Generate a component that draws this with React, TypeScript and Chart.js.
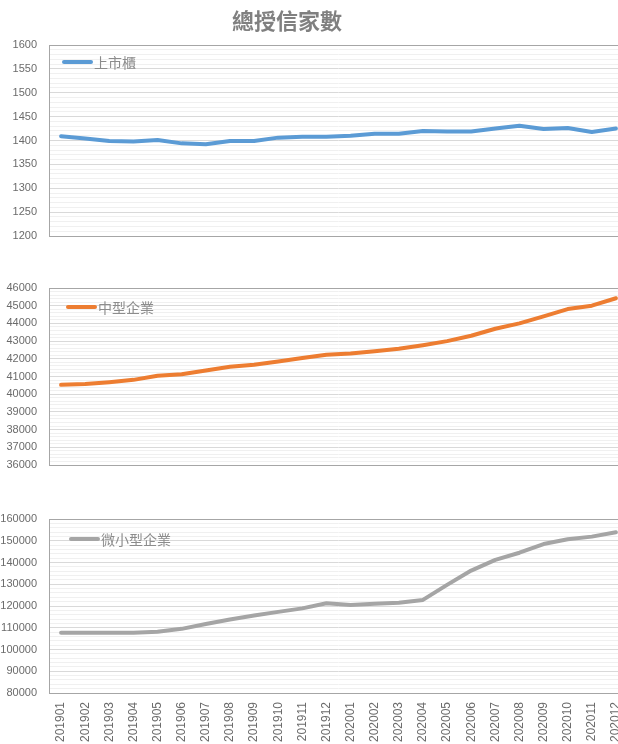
import React, { useEffect, useRef } from 'react';
import { Chart, registerables } from 'chart.js';

Chart.register(...registerables);

const chartTitle = '總授信家數';

const categories = [
  '201901', '201902', '201903', '201904', '201905', '201906',
  '201907', '201908', '201909', '201910', '201911', '201912',
  '202001', '202002', '202003', '202004', '202005', '202006',
  '202007', '202008', '202009', '202010', '202011', '202012',
];

const listedName = '上市櫃';
const listedValues = [
  1409, 1404, 1399, 1398, 1401, 1394, 1392, 1399, 1399, 1406, 1408, 1408,
  1410, 1414, 1414, 1420, 1419, 1419, 1425, 1431, 1424, 1426, 1418, 1425,
];
const listedAxis = [1200, 1600, 50, 10]; // min, max, label step, minor step

const mediumName = '中型企業';
const mediumValues = [
  40530, 40570, 40680, 40810, 41040, 41130, 41340, 41550, 41660, 41850, 42040, 42230,
  42300, 42430, 42570, 42770, 43000, 43300, 43700, 44000, 44400, 44810, 45000, 45420,
];
const mediumAxis = [36000, 46000, 1000, 200];

const smallName = '微小型企業';
const smallValues = [
  107700, 107700, 107700, 107700, 108150, 109500, 111700, 113800, 115600, 117300, 118900, 121300,
  120500, 121000, 121500, 122800, 129700, 136300, 141200, 144500, 148500, 150700, 151900, 153900,
];
const smallAxis = [80000, 160000, 10000, 2000];

const CANVAS_W = 628;
const AXIS_W = 49;
const FONT_NUM = '"Liberation Sans", Arial, sans-serif';
const FONT_CJK = '"Noto Sans CJK TC", "Noto Sans CJK SC", sans-serif';

const isMajor = (v: number, major: number) => {
  const r = Math.abs(v % major);
  return r < 1e-6 || Math.abs(r - major) < 1e-6;
};

const decorPlugin = {
  id: 'decor',
  beforeDatasetsDraw(chart: any) {
    const { ctx, chartArea: a } = chart;
    ctx.save();
    ctx.strokeStyle = '#a6a6a6';
    ctx.lineWidth = 1;
    ctx.strokeRect(
      Math.round(a.left) + 0.5,
      Math.round(a.top) + 0.5,
      Math.round(a.right - a.left),
      Math.round(a.bottom - a.top)
    );
    ctx.restore();
  },
  afterDraw(chart: any, _args: any, opts: any) {
    const { ctx } = chart;
    ctx.save();
    ctx.strokeStyle = opts.color;
    ctx.lineWidth = 4;
    ctx.lineCap = 'round';
    ctx.beginPath();
    ctx.moveTo(opts.lx1, opts.ly);
    ctx.lineTo(opts.lx2, opts.ly);
    ctx.stroke();
    ctx.fillStyle = '#8c8c8c';
    ctx.font = '14px ' + FONT_CJK;
    ctx.textBaseline = 'middle';
    ctx.textAlign = 'left';
    ctx.fillText(opts.name, opts.tx, opts.ly + 1);
    if (opts.title) {
      ctx.fillStyle = '#808080';
      ctx.font = 'bold 22px ' + FONT_CJK;
      ctx.textAlign = 'center';
      ctx.fillText(opts.title, 287, 21);
    }
    ctx.restore();
  },
};

type PanelProps = {
  top: number;
  height: number;
  padTop: number;
  padBottom: number;
  values: number[];
  axis: number[];
  color: string;
  name: string;
  showX: boolean;
  legend: { lx1: number; lx2: number; ly: number; tx: number };
  title?: string;
};

function Panel(p: PanelProps) {
  const ref = useRef<HTMLCanvasElement | null>(null);
  useEffect(() => {
    if (!ref.current) return;
    const [min, max, major, minor] = p.axis;
    const chart = new Chart(ref.current, {
      type: 'line',
      data: {
        labels: categories,
        datasets: [
          {
            label: p.name,
            data: p.values,
            borderColor: p.color,
            backgroundColor: p.color,
            borderWidth: 4,
            pointRadius: 0,
            tension: 0,
            borderCapStyle: 'round',
            borderJoinStyle: 'round',
            fill: false,
          },
        ],
      },
      options: {
        responsive: false,
        animation: false,
        layout: { padding: { top: p.padTop, bottom: p.padBottom, left: 0, right: 0 } },
        plugins: {
          legend: { display: false },
          title: { display: false },
          tooltip: { enabled: false },
          decor: { color: p.color, name: p.name, title: p.title, ...p.legend },
        } as any,
        scales: {
          x: {
            display: p.showX,
            offset: true,
            grid: { display: false, drawTicks: false },
            border: { display: false },
            ticks: {
              autoSkip: false,
              minRotation: 90,
              maxRotation: 90,
              padding: 9,
              color: '#6b6b6b',
              font: { family: FONT_NUM, size: 12 },
            },
            afterFit: (s: any) => {
              if (p.showX) s.height = 60;
              else s.height = 0;
              s.paddingLeft = 0;
              s.paddingRight = 0;
            },
          },
          y: {
            min,
            max,
            grid: {
              drawTicks: false,
              color: (c: any) => (c.tick && isMajor(c.tick.value, major) ? '#d9d9d9' : '#f0f0f0'),
              lineWidth: 1,
            },
            border: { display: false },
            ticks: {
              stepSize: minor,
              maxTicksLimit: 1000,
              autoSkip: false,
              padding: 12,
              color: '#6b6b6b',
              font: { family: FONT_NUM, size: 11 },
              callback: (v: any) => (isMajor(Number(v), major) ? String(v) : ''),
            },
            afterFit: (s: any) => {
              s.width = AXIS_W;
              s.paddingTop = 0;
              s.paddingBottom = 0;
            },
          },
        },
      },
      plugins: [decorPlugin],
    } as any);
    return () => chart.destroy();
  }, []);
  return (
    <canvas
      ref={ref}
      width={CANVAS_W}
      height={p.height}
      style={{ position: 'absolute', left: 0, top: p.top, width: CANVAS_W, height: p.height }}
    />
  );
}

export default function App() {
  return (
    <div
      style={{
        position: 'fixed',
        left: 0,
        top: 0,
        width: 618,
        height: 744,
        overflow: 'hidden',
        background: '#ffffff',
      }}
    >
      <Panel
        top={0}
        height={246}
        padTop={45}
        padBottom={10}
        values={listedValues}
        axis={listedAxis}
        color="#5b9bd5"
        name={listedName}
        showX={false}
        legend={{ lx1: 64, lx2: 91, ly: 62, tx: 94 }}
        title={chartTitle}
      />
      <Panel
        top={278}
        height={197}
        padTop={10}
        padBottom={10}
        values={mediumValues}
        axis={mediumAxis}
        color="#ed7d31"
        name={mediumName}
        showX={false}
        legend={{ lx1: 68, lx2: 95, ly: 29, tx: 98 }}
      />
      <Panel
        top={509}
        height={244}
        padTop={10}
        padBottom={0}
        values={smallValues}
        axis={smallAxis}
        color="#a5a5a5"
        name={smallName}
        showX={true}
        legend={{ lx1: 71, lx2: 98, ly: 30, tx: 101 }}
      />
    </div>
  );
}
